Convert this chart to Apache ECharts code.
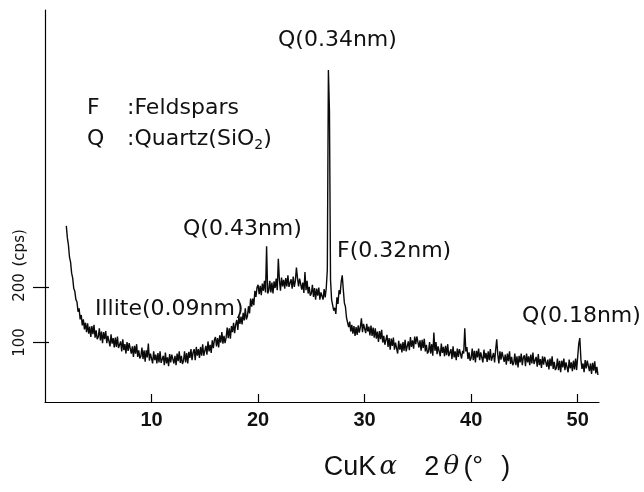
<!DOCTYPE html>
<html>
<head>
<meta charset="utf-8">
<script src="https://cdn.jsdelivr.net/npm/echarts@6/dist/echarts.min.js"></script>
<style>html,body{margin:0;padding:0;background:#fff}#c{width:644px;height:492px}</style>
</head>
<body>
<div id="c"></div>
<script>
// 2θ (degrees, CuKα), one row per degree
const twoTheta = [
 2.0,2.1,2.2,2.3,2.4,2.5,2.6,2.7,2.8,2.9,
 3.0,3.1,3.2,3.3,3.4,3.5,3.6,3.7,3.8,3.9,
 4.0,4.1,4.2,4.3,4.4,4.5,4.6,4.7,4.8,4.9,
 5.0,5.1,5.2,5.3,5.4,5.5,5.6,5.7,5.8,5.9,
 6.0,6.1,6.2,6.3,6.4,6.5,6.6,6.7,6.8,6.9,
 7.0,7.1,7.2,7.3,7.4,7.5,7.6,7.7,7.8,7.9,
 8.0,8.1,8.2,8.3,8.4,8.5,8.6,8.7,8.8,8.9,
 9.0,9.1,9.2,9.3,9.4,9.5,9.6,9.7,9.8,9.9,
 10.0,10.1,10.2,10.3,10.4,10.5,10.6,10.7,10.8,10.9,
 11.0,11.1,11.2,11.3,11.4,11.5,11.6,11.7,11.8,11.9,
 12.0,12.1,12.2,12.3,12.4,12.5,12.6,12.7,12.8,12.9,
 13.0,13.1,13.2,13.3,13.4,13.5,13.6,13.7,13.8,13.9,
 14.0,14.1,14.2,14.3,14.4,14.5,14.6,14.7,14.8,14.9,
 15.0,15.1,15.2,15.3,15.4,15.5,15.6,15.7,15.8,15.9,
 16.0,16.1,16.2,16.3,16.4,16.5,16.6,16.7,16.8,16.9,
 17.0,17.1,17.2,17.3,17.4,17.5,17.6,17.7,17.8,17.9,
 18.0,18.1,18.2,18.3,18.4,18.5,18.6,18.7,18.8,18.9,
 19.0,19.1,19.2,19.3,19.4,19.5,19.6,19.7,19.8,19.9,
 20.0,20.1,20.2,20.3,20.4,20.5,20.6,20.7,20.8,20.9,
 21.0,21.1,21.2,21.3,21.4,21.5,21.6,21.7,21.8,21.9,
 22.0,22.1,22.2,22.3,22.4,22.5,22.6,22.7,22.8,22.9,
 23.0,23.1,23.2,23.3,23.4,23.5,23.6,23.7,23.8,23.9,
 24.0,24.1,24.2,24.3,24.4,24.5,24.6,24.7,24.8,24.9,
 25.0,25.1,25.2,25.3,25.4,25.5,25.6,25.7,25.8,25.9,
 26.0,26.1,26.2,26.3,26.4,26.5,26.6,26.7,26.8,26.9,
 27.0,27.1,27.2,27.3,27.4,27.5,27.6,27.7,27.8,27.9,
 28.0,28.1,28.2,28.3,28.4,28.5,28.6,28.7,28.8,28.9,
 29.0,29.1,29.2,29.3,29.4,29.5,29.6,29.7,29.8,29.9,
 30.0,30.1,30.2,30.3,30.4,30.5,30.6,30.7,30.8,30.9,
 31.0,31.1,31.2,31.3,31.4,31.5,31.6,31.7,31.8,31.9,
 32.0,32.1,32.2,32.3,32.4,32.5,32.6,32.7,32.8,32.9,
 33.0,33.1,33.2,33.3,33.4,33.5,33.6,33.7,33.8,33.9,
 34.0,34.1,34.2,34.3,34.4,34.5,34.6,34.7,34.8,34.9,
 35.0,35.1,35.2,35.3,35.4,35.5,35.6,35.7,35.8,35.9,
 36.0,36.1,36.2,36.3,36.4,36.5,36.6,36.7,36.8,36.9,
 37.0,37.1,37.2,37.3,37.4,37.5,37.6,37.7,37.8,37.9,
 38.0,38.1,38.2,38.3,38.4,38.5,38.6,38.7,38.8,38.9,
 39.0,39.1,39.2,39.3,39.4,39.5,39.6,39.7,39.8,39.9,
 40.0,40.1,40.2,40.3,40.4,40.5,40.6,40.7,40.8,40.9,
 41.0,41.1,41.2,41.3,41.4,41.5,41.6,41.7,41.8,41.9,
 42.0,42.1,42.2,42.3,42.4,42.5,42.6,42.7,42.8,42.9,
 43.0,43.1,43.2,43.3,43.4,43.5,43.6,43.7,43.8,43.9,
 44.0,44.1,44.2,44.3,44.4,44.5,44.6,44.7,44.8,44.9,
 45.0,45.1,45.2,45.3,45.4,45.5,45.6,45.7,45.8,45.9,
 46.0,46.1,46.2,46.3,46.4,46.5,46.6,46.7,46.8,46.9,
 47.0,47.1,47.2,47.3,47.4,47.5,47.6,47.7,47.8,47.9,
 48.0,48.1,48.2,48.3,48.4,48.5,48.6,48.7,48.8,48.9,
 49.0,49.1,49.2,49.3,49.4,49.5,49.6,49.7,49.8,49.9,
 50.0,50.1,50.2,50.3,50.4,50.5,50.6,50.7,50.8,50.9,
 51.0,51.1,51.2,51.3,51.4,51.5,51.6,51.7,51.8,51.9
];
// intensity (cps), same rows
const intensity = [
 312,290,277,255,246,226,217,198,193,178,
 174,156,162,142,150,131,142,124,136,119,
 135,116,129,110,130,115,132,109,122,106,
 110,126,104,120,99,119,106,121,99,112,
 114,93,115,98,108,91,109,92,111,90,
 88,102,84,106,86,97,80,101,85,99,
 99,80,93,74,94,80,97,74,86,71,
 75,91,70,86,65,86,73,98,67,80,
 82,62,84,68,78,62,81,64,84,63,
 61,76,59,82,62,73,57,79,64,78,
 80,62,76,59,80,66,84,63,76,61,
 67,84,64,81,62,83,72,88,68,82,
 88,68,92,76,88,72,92,76,97,76,
 78,94,78,102,84,96,81,104,90,105,
 110,93,108,91,113,100,119,98,112,99,
 109,127,108,126,107,130,119,136,117,133,
 141,123,148,134,147,133,154,140,162,142,
 148,166,153,180,165,180,168,194,183,200,
 205,188,203,186,207,194,212,191,275,189,
 194,212,191,209,189,211,199,216,195,252,
 214,194,218,202,214,198,217,202,222,201,
 200,215,198,220,201,212,236,217,202,216,
 215,196,209,190,228,195,212,189,201,185,
 189,205,183,199,178,198,185,200,178,191,
 192,178,197,182,199,232,595,520,214,178,
 175,158,163,152,182,170,195,188,210,222,
 196,172,165,145,146,128,138,120,132,116,
 130,112,128,114,131,118,128,144,119,134,
 136,117,134,120,129,113,131,112,127,109,
 126,107,120,101,121,106,123,100,112,96,
 98,114,92,108,87,107,94,109,87,100,
 100,80,103,87,98,82,101,85,105,84,
 86,102,86,110,92,104,89,111,97,111,
 110,91,104,85,105,90,107,84,96,80,
 84,101,80,97,76,118,85,101,79,93,
 96,75,98,81,92,75,94,77,97,75,
 73,88,70,93,73,84,68,89,74,88,
 89,71,85,80,126,84,92,70,82,67,
 72,89,68,85,64,85,73,89,68,82,
 84,64,87,71,81,65,84,68,88,67,
 66,81,64,87,106,78,62,84,69,83,
 83,65,78,60,80,66,84,61,74,59,
 63,80,59,75,55,76,64,80,59,73,
 77,57,80,64,75,59,78,62,82,61,
 59,74,56,79,59,70,54,75,60,74,
 74,56,69,51,71,57,75,52,65,50,
 54,71,50,67,46,67,55,71,50,64,
 66,46,69,53,64,48,67,51,71,50,
 50,98,108,70,52,62,46,68,53,67,
 67,48,62,43,63,49,66,44,56,41
];
const xTickValues = [10, 20, 30, 40, 50];
const yTickValues = [100, 200];
const yUnitLabel = '(cps)';
const yUnitPos = 272;

const pts = twoTheta.map((t, i) => [t, intensity[i]]);
const chart = echarts.init(document.getElementById('c'), null, {renderer: 'canvas'});
const txt = {fontFamily: 'DejaVu Sans', fontSize: 22, fill: '#111'};
const axisCol = '#000';
chart.setOption({
  animation: false,
  backgroundColor: '#fff',
  grid: {left: 45, right: 45, top: 10, bottom: 90},
  xAxis: {
    type: 'value', min: 0, max: 52,
    axisLine: {onZero: false, lineStyle: {color: axisCol, width: 1.2}},
    axisTick: {inside: true, length: 8, customValues: xTickValues, lineStyle: {color: axisCol, width: 1.2}},
    axisLabel: {customValues: xTickValues, margin: 8, color: '#111', fontFamily: 'Liberation Sans', fontWeight: 'bold', fontSize: 20},
    splitLine: {show: false},
    name: '{c|CuK}{g|α}{s| }{n|2}{g|θ}{n|(°}{s2| }{n|)}',
    nameLocation: 'middle', nameGap: 52,
    nameTextStyle: {
      padding: [0, 0, 0, 190],
      rich: {
        c: {fontFamily: 'Liberation Sans', fontSize: 27, color: '#111'},
        n: {fontFamily: 'Liberation Sans', fontSize: 27, color: '#111'},
        g: {fontFamily: 'DejaVu Serif', fontSize: 26, fontStyle: 'italic', color: '#111', width: 24},
        s: {fontSize: 27, width: 24},
        s2: {fontSize: 27, width: 18}
      }
    }
  },
  yAxis: [{
    type: 'value', min: -8, max: 704,
    axisLine: {show: true, onZero: false, lineStyle: {color: axisCol, width: 1.2}},
    axisTick: {show: true, length: 12, customValues: yTickValues, lineStyle: {color: axisCol, width: 1.2}},
    axisLabel: {
      customValues: yTickValues.concat([yUnitPos]), rotate: 90, margin: 17,
      color: '#111', fontFamily: 'DejaVu Sans', fontSize: 15,
      formatter: v => (v === yUnitPos ? yUnitLabel : String(v))
    },
    splitLine: {show: false}
  }, {
    type: 'value', min: -8, max: 704, position: 'left',
    axisLine: {show: false, onZero: false},
    axisTick: {show: true, inside: true, length: 4, customValues: yTickValues, lineStyle: {color: axisCol, width: 1.2}},
    axisLabel: {show: false},
    splitLine: {show: false}
  }],
  series: [{
    type: 'line', data: pts, showSymbol: false, symbol: 'none',
    lineStyle: {color: '#0a0a0a', width: 1.4}
  }],
  graphic: [
    {type: 'text', left: 278, top: 29, style: Object.assign({text: 'Q(0.34nm)'}, txt)},
    {type: 'text', left: 87, top: 97, style: Object.assign({text: 'F'}, txt)},
    {type: 'text', left: 127, top: 97, style: Object.assign({text: ':Feldspars'}, txt)},
    {type: 'text', left: 87, top: 128, style: Object.assign({text: 'Q'}, txt)},
    {type: 'text', left: 127, top: 128, style: {
      text: '{a|:Quartz(SiO}{s|2}{a|)}',
      rich: {a: {fontFamily: 'DejaVu Sans', fontSize: 22, fill: '#111'}, s: {fontFamily: 'DejaVu Sans', fontSize: 14, fill: '#111', verticalAlign: 'bottom', padding: [12, 0, 0, 0]}}
    }},
    {type: 'text', left: 183, top: 218, style: Object.assign({text: 'Q(0.43nm)'}, txt)},
    {type: 'text', left: 95, top: 298, style: Object.assign({text: 'Illite(0.09nm)'}, txt)},
    {type: 'text', left: 337, top: 240, style: Object.assign({text: 'F(0.32nm)'}, txt)},
    {type: 'text', left: 522, top: 305, style: Object.assign({text: 'Q(0.18nm)'}, txt)}
  ]
});
</script>
</body>
</html>
